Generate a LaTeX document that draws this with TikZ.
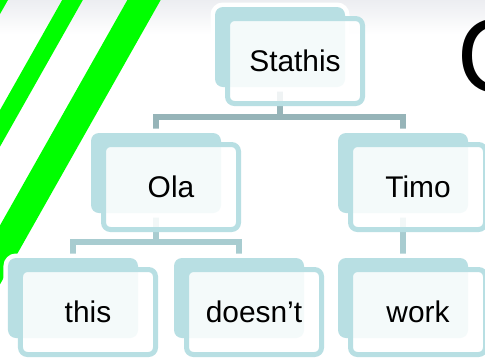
\documentclass[tikz,border=0pt]{standalone}
\usepackage{fontspec}
\setmainfont{Liberation Sans}
\usetikzlibrary{calc}

\definecolor{stripegreen}{RGB}{0,255,0}
\definecolor{boxteal}{RGB}{184,223,227}
\definecolor{linkdark}{RGB}{150,180,184}
\definecolor{linklight}{RGB}{168,204,208}
\definecolor{skytop}{RGB}{236,237,241}

\pgfdeclarelayer{sky}
\pgfdeclarelayer{links}
\pgfsetlayers{sky,links,main}

\begin{document}
\begin{tikzpicture}[x=1bp,y=-1bp,
  backbox/.style={rectangle, rounded corners=8bp, minimum width=130bp,
    minimum height=80bp, inner sep=0pt, outer sep=0pt, fill=boxteal,
    preaction={draw=white, line width=9bp}},
  labelbox/.style={rectangle, rounded corners=7bp, minimum width=135bp,
    minimum height=85bp, inner sep=0pt, outer sep=0pt, draw=boxteal,
    line width=5bp, fill=white, fill opacity=0.85, text opacity=1,
    text=black, font=\fontsize{30}{36}\selectfont},
  linktop/.style={draw=linkdark, line width=5.5bp, line join=miter},
  linksub/.style={draw=linklight, line width=5.5bp, line join=miter},
  band/.style={draw=stripegreen}]

\useasboundingbox (0,0) rectangle (485,358);
\clip (0,0) rectangle (485,358);

% backdrop: pale top fade and the green diagonal bands
\begin{pgfonlayer}{sky}
  \fill[white] (0,0) rectangle (485,358);
  \shade[top color=skytop, bottom color=white] (0,0) rectangle (485,34);
  \draw[band, line width=18bp] (8.9,-20) -- (-60,102);
  \draw[band, line width=18bp] (83.8,-20) -- (-40.5,200);
  \draw[band, line width=29bp] (155.3,-20) -- (-36.8,320);
\end{pgfonlayer}

% hierarchy boxes (shadow card behind, labelled card in front)
\node[backbox] (stathis) at (280,47) {};
\node[labelbox] (stathis-t) at ($(stathis)+(15,14)$) {Stathis};

\node[backbox] (ola) at (156,173) {};
\node[labelbox] (ola-t) at ($(ola)+(15,14)$) {Ola};

\node[backbox] (timo) at (403,173) {};
\node[labelbox] (timo-t) at ($(timo)+(15,14)$) {Timo};

\node[backbox] (this) at (73,298) {};
\node[labelbox] (this-t) at ($(this)+(15,14)$) {this};

\node[backbox] (doesnt) at (239,298) {};
\node[labelbox] (doesnt-t) at ($(doesnt)+(15,14)$) {doesn’t};

\node[backbox] (work) at (403,298) {};
\node[labelbox] (work-t) at ($(work)+(15,14)$) {work};

% title letter running off the right edge
\node[anchor=base west, inner sep=0pt, font=\fontsize{106}{110}\selectfont]
  (title) at (457,92) {O};

% elbow connectors beneath the cards
\begin{pgfonlayer}{links}
  \draw[linktop] (stathis.south) -- ++(0,30) -| (ola.north);
  \draw[linktop] (stathis.south) -- ++(0,30) -| (timo.north);
  \draw[linksub] (ola.south) -- ++(0,29) -| (this.north);
  \draw[linksub] (ola.south) -- ++(0,29) -| (doesnt.north);
  \draw[linksub] (timo.south) -- (work.north);
\end{pgfonlayer}

\end{tikzpicture}
\end{document}
